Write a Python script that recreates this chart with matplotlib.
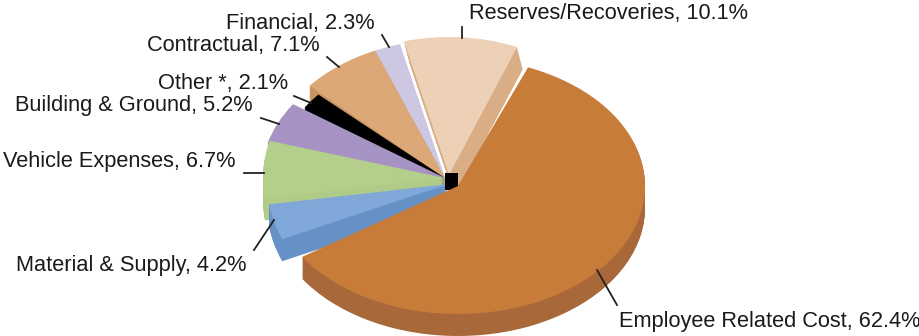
import matplotlib
matplotlib.use("Agg")
import matplotlib.pyplot as plt
from matplotlib.patches import Rectangle
from matplotlib.transforms import Affine2D

categories = ["Employee Related Cost", "Material & Supply", "Vehicle Expenses",
              "Building & Ground", "Other *", "Contractual", "Financial",
              "Reserves/Recoveries"]
values = [62.4, 4.2, 6.7, 5.2, 2.1, 7.1, 2.3, 10.1]
top_colors = ["#C87C3A", "#7FA8D8", "#B4CE8C", "#A693C4", "#000000", "#DDA877",
              "#CDC7E2", "#EDD1B6"]
side_colors = ["#A8683A", "#6591C6", "#B0CA88", "#8E7BAE", "#000000", "#C89362",
               "#B3ADC9", "#D9AE86"]

W, H = 920, 336
DEPTH = 22
# per-wedge ellipse placement in pixel space: cx, cy, rx, ry
BASE = (445, 178, 182, 138)
place = {0: (458, 186, 187, 128), 1: (449, 184, 182, 138), 3: (445, 178, 184, 131),
         4: (445, 178, 170, 125), 7: (449, 175, 182, 138)}
rank = {7: 1, 6: 2, 5: 3, 4: 4, 3: 5, 2: 6, 1: 7, 0: 9}
side_lean = {7: 0.26}
label_pos = [(619, 321), (16, 266), (3, 162), (15, 106), (158, 83), (147, 45),
             (226, 23), (469, 13)]
leaders = [((597, 270), (617, 305)), ((274, 220), (254, 250)), ((264, 173), (244, 173)),
           ((279, 124), (261, 118)), ((311, 103), (294, 96)), ((339, 67), (327, 57)),
           ((389, 47), (382, 35)), ((462, 38), (462, 27))]

plt.rcParams["font.family"] = ["Liberation Sans", "DejaVu Sans"]
fig = plt.figure(figsize=(W / 100, H / 100), dpi=100)
ax = fig.add_axes([0, 0, 1, 1])

for d in range(DEPTH, -1, -1):
    wedges, _ = ax.pie(values, startangle=68, counterclock=False, radius=1)
    for i, w in enumerate(wedges):
        cx, cy, rx, ry = place.get(i, BASE)
        lean = side_lean.get(i, 0) * d
        tr = Affine2D().scale(rx, ry).translate(cx + lean, H - cy - d) + ax.transData
        w.set_transform(tr)
        w.set_linewidth(0)
        w.set_facecolor(top_colors[i] if d == 0 else side_colors[i])
        w.set_zorder(rank[i] + (0.5 if d == 0 else 0))
        if i == 0:
            w.set_theta1(w.theta1 + 10)  # perspective foreshortening of the front corner

ax.add_patch(Rectangle((445, H - 190), 13, 17, facecolor="black", linewidth=0, zorder=8))

ax.set_aspect("auto")
ax.set_xlim(0, W)
ax.set_ylim(0, H)
ax.axis("off")

for name, v, (x, y) in zip(categories, values, label_pos):
    ax.text(x, H - y, f"{name}, {v}%", fontsize=15.7, color="#1a1a1a", ha="left",
            va="center", zorder=20)
for (a, b) in leaders:
    ax.plot([a[0], b[0]], [H - a[1], H - b[1]], color="#222222", lw=1.3, zorder=20)

fig.savefig("out.png", dpi=100)
